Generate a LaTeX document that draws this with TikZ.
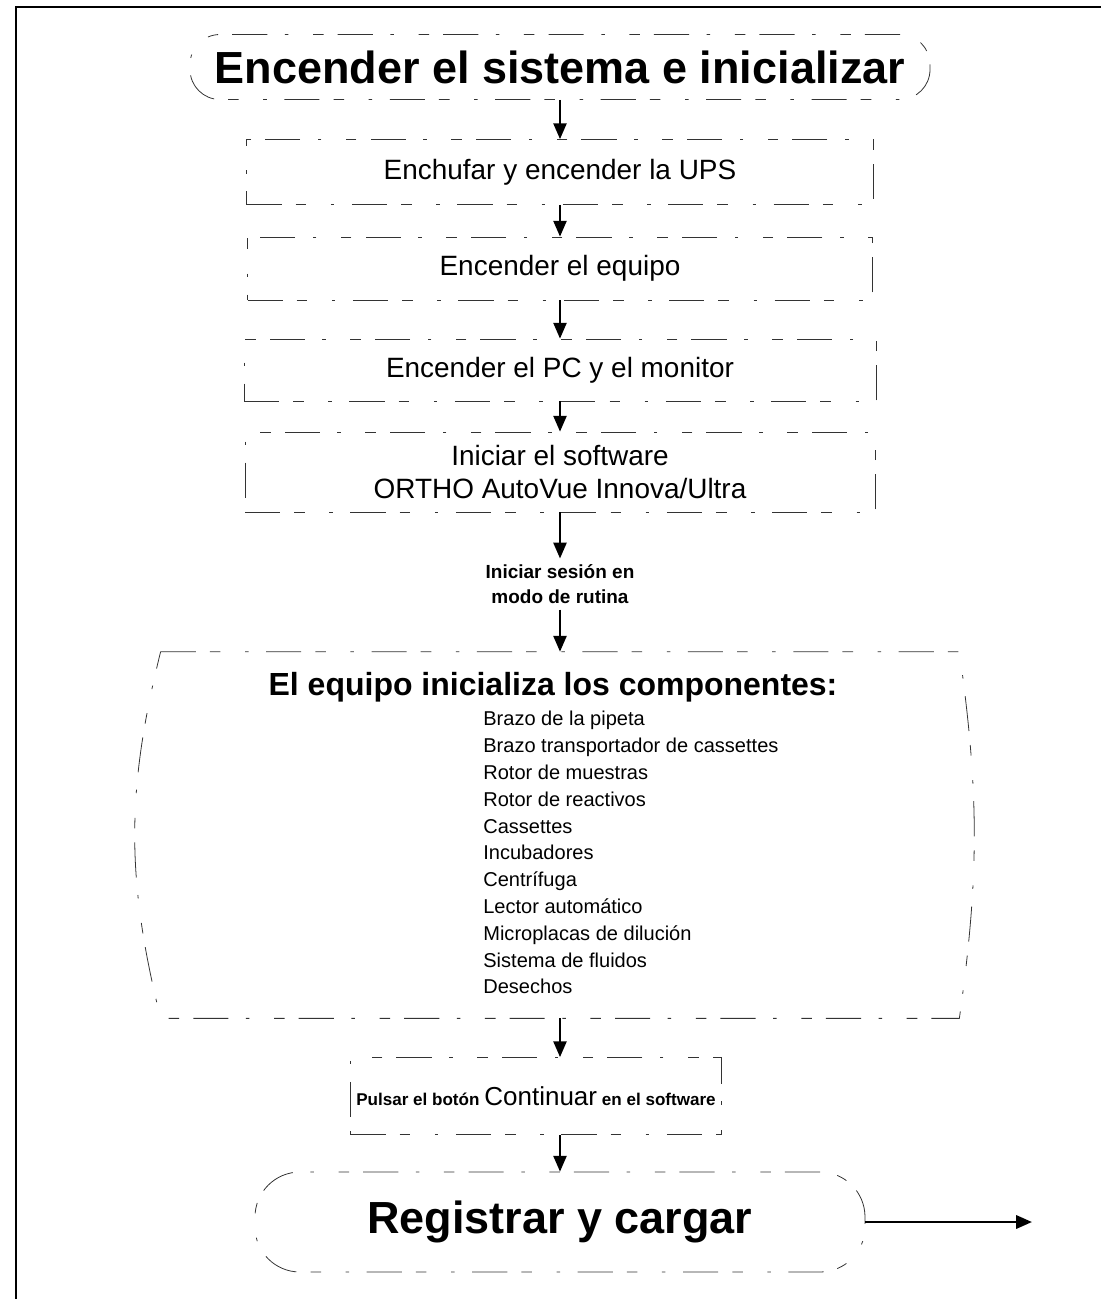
\documentclass[tikz,border=0pt]{standalone}
\usepackage{fontspec}
\setmainfont{Liberation Sans}
\usetikzlibrary{arrows.meta}

\begin{document}
\begin{tikzpicture}[>={Triangle[length=9pt,width=7.5pt]},
  scanline/.style={draw=black!80,line width=0.45pt,dash pattern=on 20pt off 8pt on 6pt off 14pt on 2pt off 10pt},
  stadium/.style={scanline,rectangle,rounded corners=#1},
  stepbox/.style={scanline,rectangle,font=\fontsize{15.9}{19}\selectfont,align=center},
  flow/.style={->,line width=1.1pt}]
\useasboundingbox (0,0) rectangle (22.02,-25.98);
\draw[line width=1.3pt] (0.32,-25.98) -- (0.32,-0.14) -- (22.02,-0.14);

\path (11.2,-1.34) node[stadium=0.6cm,minimum width=14.8cm,minimum height=1.3cm,font=\fontsize{25.6}{28}\selectfont\bfseries] (start) {Encender el sistema e inicializar};

\path (11.2,-3.44) node[stepbox,minimum width=12.54cm,minimum height=1.3cm] (ups) {Enchufar y encender la UPS};
\draw[flow] (start) -- (ups);
\path (11.2,-5.37) node[stepbox,minimum width=12.5cm,minimum height=1.26cm] (equipo) {Encender el equipo};
\draw[flow] (ups) -- (equipo);
\path (11.2,-7.4) node[stepbox,minimum width=12.64cm,minimum height=1.24cm] (pc) {Encender el PC y el monitor};
\draw[flow] (equipo) -- (pc);
\path (11.2,-9.44) node[stepbox,minimum width=12.6cm,minimum height=1.6cm] (software) {Iniciar el software\\ORTHO AutoVue Innova/Ultra};
\draw[flow] (pc) -- (software);

\path (11.2,-11.68) node[align=center,font=\fontsize{10.8}{14}\selectfont\bfseries] (sesion) {Iniciar sesión en\\modo de rutina};
\draw[flow] (software) -- (sesion);

\path (11.2,-16.7) node[minimum width=15.96cm,minimum height=7.32cm] (big) {};
\draw[scanline] (big.north west) -- (big.north east) to[bend left=8] (big.south east)
  -- (big.south west) to[bend left=14] (big.north west);
\draw[flow] (sesion) -- (big);
\path (11.06,-13.74) node[font=\fontsize{18.2}{21}\selectfont\bfseries] (head) {El equipo inicializa los componentes:};
\path (9.66,-14.22) node[anchor=north west,inner sep=0pt,align=left,font=\fontsize{11.4}{15.25}\selectfont] (parts)
  {Brazo de la pipeta\\Brazo transportador de cassettes\\Rotor de muestras\\Rotor de reactivos\\Cassettes\\Incubadores\\Centrífuga\\Lector automático\\Microplacas de dilución\\Sistema de fluidos\\Desechos};

\path (10.72,-21.92) node[scanline,rectangle,minimum width=7.36cm,minimum height=1.54cm] (pulsar)
  {{\fontsize{9.7}{12}\selectfont\bfseries Pulsar el botón} {\fontsize{14.8}{16}\selectfont Continuar} {\fontsize{9.7}{12}\selectfont\bfseries en el software}};
\draw[flow] (big.south) -- (big.south |- pulsar.north);

\path (11.2,-24.44) node[stadium=0.9cm,minimum width=12.2cm,minimum height=2cm,font=\fontsize{25.6}{28}\selectfont\bfseries] (registrar) {Registrar y cargar};
\draw[flow] (pulsar.south -| registrar.north) -- (registrar.north);
\coordinate (fin) at (20.64,-24.44);
\draw[flow,line width=1.5pt] (registrar.east) -- (fin);
\end{tikzpicture}
\end{document}
